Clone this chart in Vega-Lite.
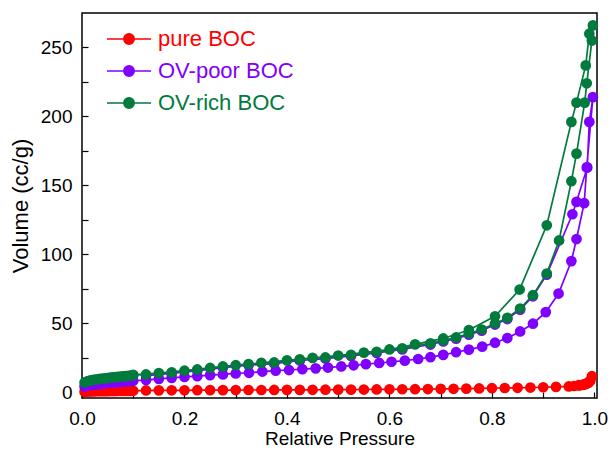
{
"$schema": "https://vega.github.io/schema/vega-lite/v6.json",
"width": 515, "height": 385,
"autosize": {"type": "none"},
"padding": {"left": 82, "top": 13, "right": 14, "bottom": 52},
"background": "white",
"config": {"view": {"stroke": "black", "strokeWidth": 1.5}, "font": "Liberation Sans",
  "axis": {"labelFont": "Liberation Sans", "titleFont": "Liberation Sans", "labelColor": "black", "titleColor": "black", "tickColor": "black", "titleFontWeight": "normal", "grid": false, "domain": false}},
"data": {"values": [
{"s":"pure BOC","p":0.005,"v":0.2},{"s":"pure BOC","p":0.01,"v":0.35},{"s":"pure BOC","p":0.015,"v":0.45},{"s":"pure BOC","p":0.02,"v":0.5},{"s":"pure BOC","p":0.025,"v":0.55},{"s":"pure BOC","p":0.03,"v":0.6},{"s":"pure BOC","p":0.035,"v":0.62},{"s":"pure BOC","p":0.04,"v":0.65},{"s":"pure BOC","p":0.045,"v":0.68},{"s":"pure BOC","p":0.05,"v":0.7},{"s":"pure BOC","p":0.055,"v":0.72},{"s":"pure BOC","p":0.06,"v":0.74},{"s":"pure BOC","p":0.065,"v":0.76},{"s":"pure BOC","p":0.07,"v":0.78},{"s":"pure BOC","p":0.075,"v":0.8},{"s":"pure BOC","p":0.08,"v":0.82},{"s":"pure BOC","p":0.085,"v":0.84},{"s":"pure BOC","p":0.09,"v":0.86},{"s":"pure BOC","p":0.095,"v":0.88},{"s":"pure BOC","p":0.1,"v":0.9},
{"s":"pure BOC","p":0.125,"v":1.2},{"s":"pure BOC","p":0.15,"v":1.25},{"s":"pure BOC","p":0.175,"v":1.3},{"s":"pure BOC","p":0.2,"v":1.3},{"s":"pure BOC","p":0.225,"v":1.35},{"s":"pure BOC","p":0.25,"v":1.4},{"s":"pure BOC","p":0.275,"v":1.4},{"s":"pure BOC","p":0.3,"v":1.45},{"s":"pure BOC","p":0.325,"v":1.5},{"s":"pure BOC","p":0.35,"v":1.5},{"s":"pure BOC","p":0.375,"v":1.55},{"s":"pure BOC","p":0.4,"v":1.6},{"s":"pure BOC","p":0.425,"v":1.6},{"s":"pure BOC","p":0.45,"v":1.65},{"s":"pure BOC","p":0.475,"v":1.7},{"s":"pure BOC","p":0.5,"v":1.75},{"s":"pure BOC","p":0.525,"v":1.8},{"s":"pure BOC","p":0.55,"v":1.85},{"s":"pure BOC","p":0.575,"v":1.9},{"s":"pure BOC","p":0.6,"v":2.0},{"s":"pure BOC","p":0.625,"v":2.05},{"s":"pure BOC","p":0.65,"v":2.1},{"s":"pure BOC","p":0.675,"v":2.2},{"s":"pure BOC","p":0.7,"v":2.3},{"s":"pure BOC","p":0.725,"v":2.4},{"s":"pure BOC","p":0.75,"v":2.5},{"s":"pure BOC","p":0.775,"v":2.65},{"s":"pure BOC","p":0.8,"v":2.8},{"s":"pure BOC","p":0.825,"v":2.95},{"s":"pure BOC","p":0.85,"v":3.1},{"s":"pure BOC","p":0.875,"v":3.3},{"s":"pure BOC","p":0.9,"v":3.5},{"s":"pure BOC","p":0.925,"v":3.8},{"s":"pure BOC","p":0.95,"v":4.1},{"s":"pure BOC","p":0.96,"v":4.4},{"s":"pure BOC","p":0.97,"v":4.8},{"s":"pure BOC","p":0.977,"v":5.2},{"s":"pure BOC","p":0.983,"v":5.8},{"s":"pure BOC","p":0.988,"v":6.7},{"s":"pure BOC","p":0.992,"v":8.2},{"s":"pure BOC","p":0.995,"v":11.5},
{"s":"pure BOC","p":0.99,"v":7.6},{"s":"pure BOC","p":0.985,"v":6.3},{"s":"pure BOC","p":0.98,"v":5.6},{"s":"pure BOC","p":0.97,"v":5.0},
{"s":"OV-poor BOC","p":0.005,"v":4.0},{"s":"OV-poor BOC","p":0.01,"v":4.6},{"s":"OV-poor BOC","p":0.015,"v":5.0},{"s":"OV-poor BOC","p":0.02,"v":5.3},{"s":"OV-poor BOC","p":0.025,"v":5.6},{"s":"OV-poor BOC","p":0.03,"v":5.8},{"s":"OV-poor BOC","p":0.035,"v":6.0},{"s":"OV-poor BOC","p":0.04,"v":6.2},{"s":"OV-poor BOC","p":0.045,"v":6.4},{"s":"OV-poor BOC","p":0.05,"v":6.6},{"s":"OV-poor BOC","p":0.055,"v":6.8},{"s":"OV-poor BOC","p":0.06,"v":7.0},{"s":"OV-poor BOC","p":0.065,"v":7.1},{"s":"OV-poor BOC","p":0.07,"v":7.3},{"s":"OV-poor BOC","p":0.075,"v":7.4},{"s":"OV-poor BOC","p":0.08,"v":7.6},{"s":"OV-poor BOC","p":0.085,"v":7.7},{"s":"OV-poor BOC","p":0.09,"v":7.9},{"s":"OV-poor BOC","p":0.095,"v":8.0},{"s":"OV-poor BOC","p":0.1,"v":8.2},
{"s":"OV-poor BOC","p":0.125,"v":8.7},{"s":"OV-poor BOC","p":0.15,"v":9.6},{"s":"OV-poor BOC","p":0.175,"v":10.3},{"s":"OV-poor BOC","p":0.2,"v":11.0},{"s":"OV-poor BOC","p":0.225,"v":11.6},{"s":"OV-poor BOC","p":0.25,"v":12.3},{"s":"OV-poor BOC","p":0.275,"v":12.8},{"s":"OV-poor BOC","p":0.3,"v":13.5},{"s":"OV-poor BOC","p":0.326,"v":14.0},{"s":"OV-poor BOC","p":0.352,"v":14.9},{"s":"OV-poor BOC","p":0.378,"v":15.5},{"s":"OV-poor BOC","p":0.404,"v":16.0},{"s":"OV-poor BOC","p":0.43,"v":16.6},{"s":"OV-poor BOC","p":0.456,"v":17.2},{"s":"OV-poor BOC","p":0.48,"v":17.8},{"s":"OV-poor BOC","p":0.506,"v":18.6},{"s":"OV-poor BOC","p":0.53,"v":19.4},{"s":"OV-poor BOC","p":0.554,"v":20.3},{"s":"OV-poor BOC","p":0.58,"v":21.1},{"s":"OV-poor BOC","p":0.604,"v":22.0},{"s":"OV-poor BOC","p":0.63,"v":22.8},{"s":"OV-poor BOC","p":0.656,"v":24.0},{"s":"OV-poor BOC","p":0.68,"v":25.3},{"s":"OV-poor BOC","p":0.705,"v":27.0},{"s":"OV-poor BOC","p":0.73,"v":28.9},{"s":"OV-poor BOC","p":0.755,"v":30.8},{"s":"OV-poor BOC","p":0.781,"v":33.0},{"s":"OV-poor BOC","p":0.806,"v":35.8},{"s":"OV-poor BOC","p":0.83,"v":39.2},{"s":"OV-poor BOC","p":0.855,"v":44.0},{"s":"OV-poor BOC","p":0.88,"v":49.6},{"s":"OV-poor BOC","p":0.905,"v":58.0},{"s":"OV-poor BOC","p":0.93,"v":71.5},{"s":"OV-poor BOC","p":0.955,"v":95},{"s":"OV-poor BOC","p":0.965,"v":111},{"s":"OV-poor BOC","p":0.98,"v":137},{"s":"OV-poor BOC","p":0.985,"v":163},{"s":"OV-poor BOC","p":0.997,"v":214},
{"s":"OV-poor BOC","p":0.99,"v":196},{"s":"OV-poor BOC","p":0.986,"v":163},{"s":"OV-poor BOC","p":0.965,"v":138},{"s":"OV-poor BOC","p":0.957,"v":129},{"s":"OV-poor BOC","p":0.907,"v":85.2},{"s":"OV-poor BOC","p":0.88,"v":69.5},{"s":"OV-poor BOC","p":0.855,"v":59.8},{"s":"OV-poor BOC","p":0.83,"v":53.0},{"s":"OV-poor BOC","p":0.806,"v":49.0},{"s":"OV-poor BOC","p":0.78,"v":44.6},{"s":"OV-poor BOC","p":0.755,"v":41.7},{"s":"OV-poor BOC","p":0.73,"v":38.8},{"s":"OV-poor BOC","p":0.705,"v":36.7},{"s":"OV-poor BOC","p":0.68,"v":34.5},{"s":"OV-poor BOC","p":0.625,"v":30.9},{"s":"OV-poor BOC","p":0.575,"v":28.4},{"s":"OV-poor BOC","p":0.525,"v":26.2},{"s":"OV-poor BOC","p":0.475,"v":24.3},{"s":"OV-poor BOC","p":0.425,"v":22.9},{"s":"OV-poor BOC","p":0.375,"v":20.7},{"s":"OV-poor BOC","p":0.325,"v":19.5},{"s":"OV-poor BOC","p":0.275,"v":17.8},{"s":"OV-poor BOC","p":0.225,"v":15.6},{"s":"OV-poor BOC","p":0.175,"v":13.5},{"s":"OV-poor BOC","p":0.125,"v":12.0},
{"s":"OV-rich BOC","p":0.005,"v":7.0},{"s":"OV-rich BOC","p":0.01,"v":7.8},{"s":"OV-rich BOC","p":0.015,"v":8.3},{"s":"OV-rich BOC","p":0.02,"v":8.7},{"s":"OV-rich BOC","p":0.025,"v":9.0},{"s":"OV-rich BOC","p":0.03,"v":9.3},{"s":"OV-rich BOC","p":0.035,"v":9.6},{"s":"OV-rich BOC","p":0.04,"v":9.8},{"s":"OV-rich BOC","p":0.045,"v":10.0},{"s":"OV-rich BOC","p":0.05,"v":10.2},{"s":"OV-rich BOC","p":0.055,"v":10.4},{"s":"OV-rich BOC","p":0.06,"v":10.6},{"s":"OV-rich BOC","p":0.065,"v":10.8},{"s":"OV-rich BOC","p":0.07,"v":11.0},{"s":"OV-rich BOC","p":0.075,"v":11.2},{"s":"OV-rich BOC","p":0.08,"v":11.4},{"s":"OV-rich BOC","p":0.085,"v":11.6},{"s":"OV-rich BOC","p":0.09,"v":11.8},{"s":"OV-rich BOC","p":0.095,"v":12.0},{"s":"OV-rich BOC","p":0.1,"v":12.2},
{"s":"OV-rich BOC","p":0.125,"v":12.8},{"s":"OV-rich BOC","p":0.175,"v":14.3},{"s":"OV-rich BOC","p":0.225,"v":16.4},{"s":"OV-rich BOC","p":0.275,"v":18.6},{"s":"OV-rich BOC","p":0.325,"v":20.3},{"s":"OV-rich BOC","p":0.375,"v":21.5},{"s":"OV-rich BOC","p":0.425,"v":23.7},{"s":"OV-rich BOC","p":0.475,"v":25.1},{"s":"OV-rich BOC","p":0.525,"v":27.0},{"s":"OV-rich BOC","p":0.575,"v":29.2},{"s":"OV-rich BOC","p":0.625,"v":31.7},{"s":"OV-rich BOC","p":0.68,"v":35.3},{"s":"OV-rich BOC","p":0.705,"v":37.5},{"s":"OV-rich BOC","p":0.73,"v":39.6},{"s":"OV-rich BOC","p":0.755,"v":42.5},{"s":"OV-rich BOC","p":0.78,"v":45.4},{"s":"OV-rich BOC","p":0.806,"v":49.8},{"s":"OV-rich BOC","p":0.83,"v":53.8},{"s":"OV-rich BOC","p":0.855,"v":60.6},{"s":"OV-rich BOC","p":0.88,"v":70.3},{"s":"OV-rich BOC","p":0.907,"v":86},{"s":"OV-rich BOC","p":0.931,"v":110},{"s":"OV-rich BOC","p":0.955,"v":153},{"s":"OV-rich BOC","p":0.965,"v":173},{"s":"OV-rich BOC","p":0.981,"v":210},{"s":"OV-rich BOC","p":0.985,"v":224},{"s":"OV-rich BOC","p":0.995,"v":255},{"s":"OV-rich BOC","p":0.997,"v":266},
{"s":"OV-rich BOC","p":0.99,"v":260},{"s":"OV-rich BOC","p":0.983,"v":237},{"s":"OV-rich BOC","p":0.965,"v":210},{"s":"OV-rich BOC","p":0.955,"v":196},{"s":"OV-rich BOC","p":0.907,"v":121},{"s":"OV-rich BOC","p":0.854,"v":74.4},{"s":"OV-rich BOC","p":0.806,"v":55},{"s":"OV-rich BOC","p":0.755,"v":45},{"s":"OV-rich BOC","p":0.705,"v":38.9},{"s":"OV-rich BOC","p":0.65,"v":34.6},{"s":"OV-rich BOC","p":0.6,"v":30.9},{"s":"OV-rich BOC","p":0.55,"v":28.6},{"s":"OV-rich BOC","p":0.5,"v":26.5},{"s":"OV-rich BOC","p":0.45,"v":24.8},{"s":"OV-rich BOC","p":0.4,"v":23.0},{"s":"OV-rich BOC","p":0.35,"v":21.2},{"s":"OV-rich BOC","p":0.3,"v":19.5},{"s":"OV-rich BOC","p":0.25,"v":17.5},{"s":"OV-rich BOC","p":0.2,"v":15.5},{"s":"OV-rich BOC","p":0.15,"v":13.8},{"s":"OV-rich BOC","p":0.1,"v":12.5}
]},
"encoding": {
  "x": {"field": "p", "type": "quantitative", "scale": {"domain": [0, 1.005], "nice": false, "zero": false},
    "axis": {"title": "Relative Pressure", "values": [0,0.1,0.2,0.3,0.4,0.5,0.6,0.7,0.8,0.9,1.0],
      "labelExpr": "round(datum.value*10) % 2 == 0 ? format(datum.value, '.1f') : ''",
      "labelFontSize": 19, "titleFontSize": 19, "tickSize": -6, "tickWidth": 1.2, "labelPadding": 17, "titlePadding": 1, "labelFlush": false, "labelOverlap": false}},
  "y": {"field": "v", "type": "quantitative", "scale": {"domain": [-4.3, 275], "nice": false, "zero": false},
    "axis": {"title": "Volume (cc/g)", "values": [0,25,50,75,100,125,150,175,200,225,250],
      "labelExpr": "datum.value % 50 == 0 ? datum.label : ''",
      "labelFontSize": 19, "titleFontSize": 22, "tickSize": -6, "tickWidth": 1.2, "labelPadding": 16, "titlePadding": 8, "labelFlush": false, "labelOverlap": false}},
  "color": {"field": "s", "type": "nominal",
    "scale": {"domain": ["pure BOC", "OV-poor BOC", "OV-rich BOC"], "range": ["#ff0000", "#8000ff", "#007a3d"]},
    "legend": {"orient": "none", "legendX": 35, "legendY": 14, "title": null,
      "symbolType": "M-2,0H2M-0.47,0A0.47,0.47,0,1,1,0.47,0A0.47,0.47,0,1,1,-0.47,0Z",
      "symbolSize": 484, "symbolStrokeWidth": 1.6, "labelFontSize": 22, "labelFont": "Liberation Sans", "labelOffset": 17, "rowPadding": 9, "labelLimit": 300,
      "encode": {"symbols": {"update": {"fill": {"scale": "color", "field": "value"}, "stroke": {"scale": "color", "field": "value"}, "opacity": {"value": 1}}},
                 "labels": {"update": {"fill": {"scale": "color", "field": "value"}}}}}}
},
"layer": [
  {"transform": [{"filter": "datum.s == 'pure BOC'"}], "mark": {"type": "line", "strokeWidth": 1.7}, "encoding": {"order": {"value": null}}},
  {"transform": [{"filter": "datum.s == 'pure BOC'"}], "mark": {"type": "point", "filled": true, "size": 115, "opacity": 1}},
  {"transform": [{"filter": "datum.s == 'OV-poor BOC'"}], "mark": {"type": "line", "strokeWidth": 1.7}, "encoding": {"order": {"value": null}}},
  {"transform": [{"filter": "datum.s == 'OV-poor BOC'"}], "mark": {"type": "point", "filled": true, "size": 115, "opacity": 1}},
  {"transform": [{"filter": "datum.s == 'OV-rich BOC'"}], "mark": {"type": "line", "strokeWidth": 1.7}, "encoding": {"order": {"value": null}}},
  {"transform": [{"filter": "datum.s == 'OV-rich BOC'"}], "mark": {"type": "point", "filled": true, "size": 115, "opacity": 1}}
]
}
